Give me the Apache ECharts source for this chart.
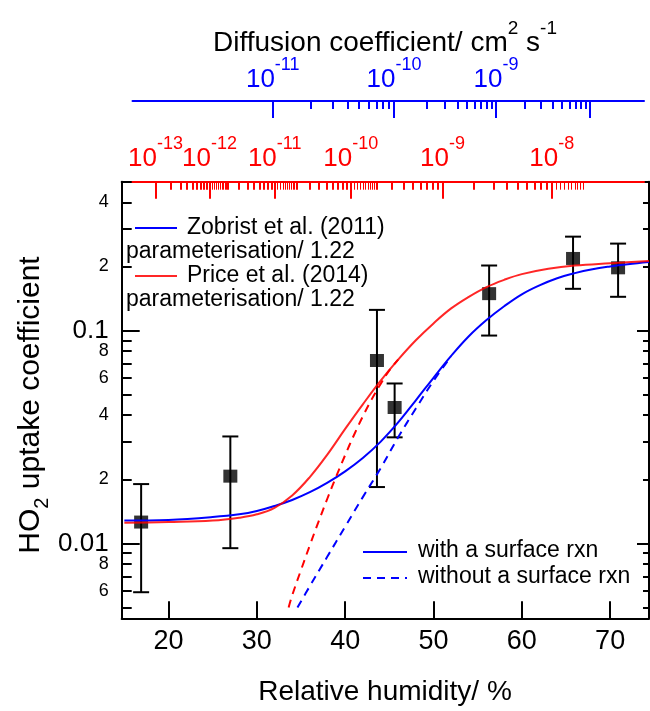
<!DOCTYPE html>
<html><head><meta charset="utf-8">
<script src="https://cdn.jsdelivr.net/npm/echarts@6/dist/echarts.min.js"></script>
<style>html,body{margin:0;padding:0;background:#fff}#c{width:650px;height:711px}</style>
</head><body><div id="c"></div>
<script>
const FONT = '"Liberation Sans", Arial, sans-serif';
const BLUE = '#0000ff', RED = '#ff0000';

// ---- axis ranges ----
const rhMin = 14.7, rhMax = 74.4;
const yMin = 0.00445, yMax = 0.5;

// ---- tick values ----
const xTicks = [20, 30, 40, 50, 60, 70];
const yMajorTicks = [0.01, 0.1];
const yMinorTicks = [0.005, 0.006, 0.007, 0.008, 0.009, 0.02, 0.03, 0.04, 0.05, 0.06, 0.07, 0.08, 0.09, 0.2, 0.3, 0.4];
const yMinorLabels = [0.006, 0.008, 0.02, 0.04, 0.06, 0.08, 0.2, 0.4];

// Top diffusion-coefficient axes: decade exponents and the RH at which each decade tick sits
const blueExp = [-11, -10, -9, -8];
const blueExpRH = [31.80, 45.53, 57.08, 67.72];
const blueLabelExp = [-11, -10, -9];
const redExp = [-13, -12, -11, -10, -9, -8];
const redExpRH = [18.53, 24.64, 32.02, 40.63, 51.03, 63.39];
const redLabelExpA = [-13, -11, -9];
const redLabelExpB = [-12, -10, -8];
const minorMult = [2, 3, 4, 5, 6, 7, 8, 9];
const redFineDecades = [-12, -11, -10, -8];
const fineMult = [1.1, 1.2, 1.3, 1.4, 1.5, 1.6, 1.7, 1.8, 1.9];

// ---- measurements ----
const pointRH    = [16.9, 27.0, 43.6, 45.6, 56.3, 65.8, 70.9];
const pointGamma = [0.0126, 0.0207, 0.0723, 0.0435, 0.149, 0.218, 0.197];
const pointLow   = [0.0059, 0.0095, 0.0184, 0.0315, 0.0947, 0.157, 0.144];
const pointHigh  = [0.0190, 0.0318, 0.125, 0.0564, 0.202, 0.276, 0.256];

// ---- model curves ----
const zobristRH    = [15, 20, 25, 28, 30, 32, 34, 36, 38, 40, 42, 44, 46, 48, 50, 52, 54, 56, 58, 60, 62, 64, 66, 68, 70, 72, 74.4];
const zobristGamma = [0.0128, 0.0129, 0.0133, 0.0137, 0.0142, 0.0150, 0.0160, 0.0174, 0.0193, 0.0218, 0.0252, 0.0300, 0.0370, 0.047, 0.060, 0.076, 0.094, 0.112, 0.130, 0.148, 0.163, 0.176, 0.186, 0.194, 0.200, 0.205, 0.210];
const priceRH    = [15, 20, 25, 28, 30, 32, 34, 36, 38, 40, 42, 44, 46, 48, 50, 52, 54, 56, 58, 60, 63, 66, 70, 74.4];
const priceGamma = [0.0125, 0.0126, 0.0128, 0.0132, 0.0137, 0.0147, 0.0168, 0.0205, 0.0262, 0.0345, 0.0450, 0.0580, 0.0730, 0.0900, 0.108, 0.127, 0.144, 0.160, 0.173, 0.184, 0.195, 0.202, 0.207, 0.212];
const zobristNoSurfRH    = [34.6, 36, 38, 40, 42, 44, 46, 48, 50, 52];
const zobristNoSurfGamma = [0.0050, 0.0063, 0.0087, 0.0120, 0.0165, 0.0225, 0.0315, 0.043, 0.058, 0.0755];
const priceNoSurfRH    = [33.6, 34, 35, 36, 37, 38, 39, 40, 41, 42, 43, 44, 45, 46];
const priceNoSurfGamma = [0.0050, 0.0057, 0.0075, 0.0098, 0.0127, 0.0163, 0.0207, 0.0260, 0.0323, 0.0395, 0.0475, 0.0560, 0.0650, 0.0730];

// ---- layout ----
const GL = 121.7, GR = 649, GT = 181.7, GB = 618.3;
const TL = 132.5, TR = 644, TT = 101;
const pxPerRH = (GR - GL) / (rhMax - rhMin);
const g1Min = rhMin + (TL - GL) / pxPerRH, g1Max = rhMin + (TR - GL) / pxPerRH;

// natural cubic spline: exponent -> RH
function makeSpline(xs, ys) {
  const n = xs.length, h = [], al = [], l = [1], mu = [0], z = [0], c = new Array(n).fill(0), b = [], d = [];
  for (let i = 0; i < n - 1; i++) h[i] = xs[i + 1] - xs[i];
  for (let i = 1; i < n - 1; i++) al[i] = 3 / h[i] * (ys[i + 1] - ys[i]) - 3 / h[i - 1] * (ys[i] - ys[i - 1]);
  for (let i = 1; i < n - 1; i++) { l[i] = 2 * (xs[i + 1] - xs[i - 1]) - h[i - 1] * mu[i - 1]; mu[i] = h[i] / l[i]; z[i] = (al[i] - h[i - 1] * z[i - 1]) / l[i]; }
  for (let j = n - 2; j >= 0; j--) { c[j] = z[j] - mu[j] * c[j + 1]; b[j] = (ys[j + 1] - ys[j]) / h[j] - h[j] * (c[j + 1] + 2 * c[j]) / 3; d[j] = (c[j + 1] - c[j]) / (3 * h[j]); }
  return x => { let i = n - 2; for (let k = 0; k < n - 1; k++) { if (x <= xs[k + 1]) { i = k; break; } } const dx = x - xs[i]; return ys[i] + b[i] * dx + c[i] * dx * dx + d[i] * dx * dx * dx; };
}
function minorTicksFor(exps, rhs) {
  const f = makeSpline(exps, rhs), out = [];
  for (let e = exps[0]; e < exps[exps.length - 1]; e++) minorMult.forEach(m => out.push(f(e + Math.log10(m))));
  return out;
}
const blueMinorRH = minorTicksFor(blueExp, blueExpRH);
const redSpline = makeSpline(redExp, redExpRH);
const redMinorRH = minorTicksFor(redExp, redExpRH);
const redFineRH = [].concat(...redFineDecades.map(e => fineMult.map(m => redSpline(e + Math.log10(m)))));
function labelMap(exps, rhs) {
  const m = {}; exps.forEach((e, i) => { m[rhs[i].toFixed(3)] = e; }); return m;
}
const blueLabMap = labelMap(blueExp, blueExpRH);
const redLabMap = labelMap(redExp, redExpRH);
const pick = (exps, rhs, shown) => rhs.filter((v, i) => shown.indexOf(exps[i]) >= 0);
const blueLabelRH = pick(blueExp, blueExpRH, blueLabelExp);
const redLabelRH_A = pick(redExp, redExpRH, redLabelExpA);
const redLabelRH_B = pick(redExp, redExpRH, redLabelExpB);

const lmin = Math.log10(yMin), lmax = Math.log10(yMax);
const L = a => a.map(v => Math.log10(v));
const zip = (a, b) => a.map((v, i) => [v, b[i]]);

function powRich(color) {
  return {
    b: { fontSize: 26, lineHeight: 37, verticalAlign: 'bottom', color: color, fontFamily: FONT },
    s: { fontSize: 18, lineHeight: 18, verticalAlign: 'top', color: color, fontFamily: FONT }
  };
}
const none = { show: false };
function tickAxisX(grid, pos, min, max, values, len, inside, color, label, lineShow, tw) {
  return {
    type: 'value', gridIndex: grid, position: pos, min: min, max: max,
    axisLine: { show: lineShow, onZero: false, lineStyle: { color: color, width: 2 } },
    axisTick: { show: len > 0, inside: inside, length: len, customValues: values, lineStyle: { color: color, width: tw || 2 } },
    axisLabel: label || none, splitLine: none, axisPointer: none
  };
}
function powLabel(values, map, color, margin, inside) {
  return {
    show: true, inside: inside, customValues: values, margin: margin, showMinLabel: true, showMaxLabel: true, hideOverlap: false,
    formatter: v => '{b|10}{s|' + map[v.toFixed(3)] + '}', rich: powRich(color)
  };
}
function tickAxisY(pos, values, len, label) {
  return {
    type: 'value', gridIndex: 0, position: pos, min: lmin, max: lmax,
    axisLine: { show: false, onZero: false },
    axisTick: { show: true, inside: true, length: len, customValues: L(values), lineStyle: { color: '#000', width: 2 } },
    axisLabel: label || none, splitLine: none, axisPointer: none
  };
}

const chart = echarts.init(document.getElementById('c'), null, { renderer: 'canvas' });
const option = {
  animation: false,
  backgroundColor: '#fff',
  textStyle: { fontFamily: FONT },
  grid: [
    { left: GL, top: GT, width: GR - GL, height: GB - GT, containLabel: false, outerBoundsMode: 'none' },
    { left: TL, top: TT, width: TR - TL, height: GT - TT, containLabel: false, outerBoundsMode: 'none' }
  ],
  xAxis: [
    {
      type: 'value', gridIndex: 0, position: 'bottom', min: rhMin, max: rhMax,
      axisLine: { show: true, onZero: false, lineStyle: { color: '#000', width: 2 } },
      axisTick: { show: true, inside: true, length: 17, customValues: xTicks, lineStyle: { color: '#000', width: 2 } },
      axisLabel: { show: true, customValues: xTicks, margin: 10, fontSize: 27, color: '#000', fontFamily: FONT },
      splitLine: none, axisPointer: none
    },
    tickAxisX(0, 'top', rhMin, rhMax, [], 0, true, '#000', null, true),
    tickAxisX(1, 'top', g1Min, g1Max, blueExpRH, 17, true, BLUE, powLabel(blueLabelRH, blueLabMap, BLUE, 8, false), true),
    tickAxisX(1, 'top', g1Min, g1Max, blueMinorRH, 8, true, BLUE, null, false),
    tickAxisX(1, 'bottom', g1Min, g1Max, redExpRH, 17, false, RED, powLabel(redLabelRH_A, redLabMap, RED, 10, true), true),
    tickAxisX(1, 'bottom', g1Min, g1Max, redMinorRH, 8, false, RED, powLabel(redLabelRH_B, redLabMap, RED, 10, true), false),
    tickAxisX(1, 'bottom', g1Min, g1Max, redFineRH, 8, false, RED, null, false, 1)
  ],
  yAxis: [
    {
      type: 'log', logBase: 10, gridIndex: 0, position: 'left', min: yMin, max: yMax,
      axisLine: { show: true, onZero: false, lineStyle: { color: '#000', width: 2 } },
      axisTick: none, axisLabel: none, splitLine: none, minorTick: none, axisPointer: none
    },
    tickAxisY('left', yMajorTicks, 18, {
      show: true, customValues: L(yMajorTicks), margin: 13, fontSize: 26, color: '#000', fontFamily: FONT, showMinLabel: true, showMaxLabel: true,
      formatter: v => String(Number(Math.pow(10, v).toPrecision(1)))
    }),
    tickAxisY('left', yMinorTicks, 10, {
      show: true, customValues: L(yMinorLabels), margin: 13, fontSize: 18, color: '#000', fontFamily: FONT, showMinLabel: true, showMaxLabel: true,
      formatter: v => String(Math.round(Math.pow(10, v) / Math.pow(10, Math.floor(v + 1e-9))))
    }),
    Object.assign(tickAxisY('right', yMajorTicks, 12), { axisLine: { show: true, onZero: false, lineStyle: { color: '#000', width: 2 } } }),
    tickAxisY('right', yMinorTicks, 6),
    { type: 'value', gridIndex: 1, show: false, min: 0, max: 1 }
  ],
  series: [
    {
      type: 'custom', name: 'err', xAxisIndex: 0, yAxisIndex: 0, z: 3,
      data: pointRH.map((x, i) => [x, pointLow[i], pointHigh[i]]),
      encode: { x: 0, y: [1, 2] },
      renderItem: function (params, api) {
        const x = api.value(0);
        const lo = api.coord([x, api.value(1)]), hi = api.coord([x, api.value(2)]);
        const c = 8, st = { stroke: '#000', lineWidth: 2 };
        return { type: 'group', children: [
          { type: 'line', shape: { x1: lo[0], y1: lo[1], x2: hi[0], y2: hi[1] }, style: st },
          { type: 'line', shape: { x1: lo[0] - c, y1: lo[1], x2: lo[0] + c, y2: lo[1] }, style: st },
          { type: 'line', shape: { x1: hi[0] - c, y1: hi[1], x2: hi[0] + c, y2: hi[1] }, style: st }
        ] };
      }
    },
    {
      type: 'scatter', name: 'data', xAxisIndex: 0, yAxisIndex: 0, z: 4,
      symbol: 'rect', symbolSize: [14, 13], itemStyle: { color: '#000' },
      data: zip(pointRH, pointGamma)
    },
    { type: 'line', name: 'Zobrist', xAxisIndex: 0, yAxisIndex: 0, z: 5, smooth: 0.4, showSymbol: false, symbol: 'none',
      lineStyle: { color: BLUE, width: 2 }, data: zip(zobristRH, zobristGamma) },
    { type: 'line', name: 'Price', xAxisIndex: 0, yAxisIndex: 0, z: 5, smooth: 0.4, showSymbol: false, symbol: 'none',
      lineStyle: { color: RED, width: 2, opacity: 0.85 }, data: zip(priceRH, priceGamma) },
    { type: 'line', name: 'Zobrist no surf', xAxisIndex: 0, yAxisIndex: 0, z: 5, smooth: 0.4, showSymbol: false, symbol: 'none',
      lineStyle: { color: BLUE, width: 2, type: [8, 6] }, data: zip(zobristNoSurfRH, zobristNoSurfGamma) },
    { type: 'line', name: 'Price no surf', xAxisIndex: 0, yAxisIndex: 0, z: 5, smooth: 0.4, showSymbol: false, symbol: 'none',
      lineStyle: { color: RED, width: 2, type: [8, 6] }, data: zip(priceNoSurfRH, priceNoSurfGamma) }
  ],
  graphic: [
    { type: 'text', x: 385, y: 38, style: { text: '{n|Diffusion coefficient/ cm}{s|2}{n| s}{s|-1}', align: 'center', verticalAlign: 'middle',
      rich: { n: { fontSize: 28, lineHeight: 38, verticalAlign: 'bottom', fontFamily: FONT, color: '#000' },
              s: { fontSize: 19, lineHeight: 19, verticalAlign: 'top', fontFamily: FONT, color: '#000' } } } },
    { type: 'text', x: 385, y: 692, style: { text: 'Relative humidity/ %', align: 'center', verticalAlign: 'middle', font: '28px ' + FONT, fill: '#000' } },
    { type: 'text', x: 34, y: 405, rotation: Math.PI / 2, style: { text: '{n|HO}{s|2}{n| uptake coefficient}', align: 'center', verticalAlign: 'middle',
      rich: { n: { fontSize: 30, lineHeight: 30, verticalAlign: 'top', fontFamily: FONT, color: '#000' },
              s: { fontSize: 20, lineHeight: 36, verticalAlign: 'bottom', fontFamily: FONT, color: '#000' } } } },
    // legend 1
    { type: 'line', shape: { x1: 135, y1: 228, x2: 177, y2: 228 }, style: { stroke: BLUE, lineWidth: 2 } },
    { type: 'text', x: 187, y: 228, style: { text: 'Zobrist et al. (2011)', align: 'left', verticalAlign: 'middle', font: '23px ' + FONT, fill: '#000' } },
    { type: 'text', x: 126, y: 252, style: { text: 'parameterisation/ 1.22', align: 'left', verticalAlign: 'middle', font: '23px ' + FONT, fill: '#000' } },
    { type: 'line', shape: { x1: 135, y1: 276, x2: 177, y2: 276 }, style: { stroke: RED, lineWidth: 2, opacity: 0.85 } },
    { type: 'text', x: 187, y: 276, style: { text: 'Price et al. (2014)', align: 'left', verticalAlign: 'middle', font: '23px ' + FONT, fill: '#000' } },
    { type: 'text', x: 126, y: 300, style: { text: 'parameterisation/ 1.22', align: 'left', verticalAlign: 'middle', font: '23px ' + FONT, fill: '#000' } },
    // legend 2
    { type: 'line', shape: { x1: 363, y1: 552, x2: 407, y2: 552 }, style: { stroke: BLUE, lineWidth: 2 } },
    { type: 'text', x: 418, y: 551, style: { text: 'with a surface rxn', align: 'left', verticalAlign: 'middle', font: '23px ' + FONT, fill: '#000' } },
    { type: 'line', shape: { x1: 363, y1: 578, x2: 407, y2: 578 }, style: { stroke: BLUE, lineWidth: 2, lineDash: [8, 6] } },
    { type: 'text', x: 418, y: 577, style: { text: 'without a surface rxn', align: 'left', verticalAlign: 'middle', font: '23px ' + FONT, fill: '#000' } }
  ]
};
chart.setOption(option);
</script></body></html>
